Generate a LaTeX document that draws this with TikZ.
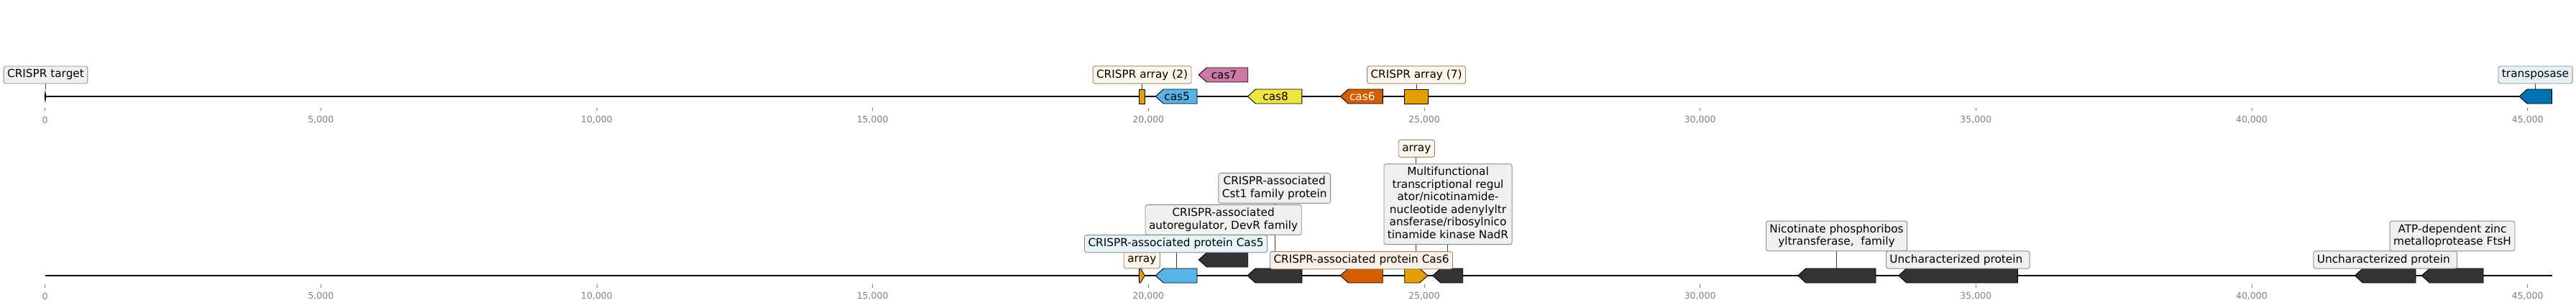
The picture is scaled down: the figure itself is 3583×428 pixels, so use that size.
\documentclass[tikz,border=0pt]{standalone}
\usepackage{fontspec}
\setmainfont{DejaVu Sans}
\definecolor{gorange}{HTML}{E69F00}
\definecolor{gsky}{HTML}{56B4E9}
\definecolor{gyellow}{HTML}{F0E442}
\definecolor{gblue}{HTML}{0072B2}
\definecolor{gverm}{HTML}{D55E00}
\definecolor{gpurple}{HTML}{CC79A7}
\definecolor{gdark}{HTML}{333333}
\definecolor{bgray}{HTML}{F0F0F0}
\definecolor{bcream}{HTML}{FEF6E6}
\definecolor{bsky}{HTML}{E6F4FC}
\definecolor{bpeach}{HTML}{FCEFE6}
\definecolor{bblue}{HTML}{E5F1F7}
\definecolor{bedge}{HTML}{8A8A8A}
\definecolor{tickgray}{HTML}{808080}
\pgfdeclarelayer{bg}
\pgfsetlayers{bg,main}
\tikzset{
  genestyle/.style={draw=black, line width=0.9pt, line join=miter},
  lbl/.style={draw=bedge, line width=0.9pt, rounded corners=3pt, inner xsep=5pt, inner ysep=4.5pt,
    align=center, font=\fontsize{15.3}{17.5}\selectfont,
    execute at begin node={\rule{0pt}{11.4pt}},
    execute at end node={\rule[-3.6pt]{0pt}{3.6pt}}},
  glabel/.style={font=\fontsize{15.3}{17.5}\selectfont, inner sep=0pt},
  conn/.style={draw=black!75, line width=0.8pt},
  axisline/.style={line width=2pt, black},
  tickmark/.style={draw=tickgray, line width=0.8pt},
  ticklabel/.style={text=tickgray, font=\fontsize{12.5}{14}\selectfont, inner sep=0pt}
}
% left-pointing gene: name, x1, x2, yc, colour
\newcommand{\geneL}[5]{%
  \draw[genestyle, fill=#5] (#2,#4) -- ({#2+11},{#4-10}) -- (#3,{#4-10}) -- (#3,{#4+10}) -- ({#2+11},{#4+10}) -- cycle;
  \coordinate (#1) at ({(#2+#3)/2},{#4-10});
  \coordinate (#1c) at ({(#2+#3)/2},#4);}
% right-pointing gene: name, x1, x2, yc, colour, head
\newcommand{\geneR}[6]{%
  \draw[genestyle, fill=#5] (#2,{#4-10}) -- ({#3-#6},{#4-10}) -- (#3,#4) -- ({#3-#6},{#4+10}) -- (#2,{#4+10}) -- cycle;
  \coordinate (#1) at ({(#2+#3)/2},{#4-10});
  \coordinate (#1c) at ({(#2+#3)/2},#4);}
% undirected gene: name, x1, x2, yc, colour
\newcommand{\geneB}[5]{%
  \draw[genestyle, fill=#5] (#2,{#4-10}) rectangle (#3,{#4+10});
  \coordinate (#1) at ({(#2+#3)/2},{#4-10});
  \coordinate (#1c) at ({(#2+#3)/2},#4);}
\begin{document}
\begin{tikzpicture}[x=1pt,y=-1pt]
\useasboundingbox (0,0) rectangle (3583,428);

% ---------- axes ----------
\coordinate (axTs) at (62.7,134);
\coordinate (axTe) at (3550,134);
\coordinate (axBs) at (62.7,383);
\coordinate (axBe) at (3550,383);
\begin{pgfonlayer}{bg}
\fill[white] (0,0) rectangle (3583,428);
\draw[axisline] (axTs) -- (axTe);
\draw[axisline] (axBs) -- (axBe);
\end{pgfonlayer}
\foreach \v/\t in {0/0,5/{5,000},10/{10,000},15/{15,000},20/{20,000},25/{25,000},30/{30,000},35/{35,000},40/{40,000},45/{45,000}}{
  \draw[tickmark] ({62.7+\v*76.73},149.5) -- ({62.7+\v*76.73},154);
  \node[ticklabel] at ({62.7+\v*76.73},166.5) {\t};
  \draw[tickmark] ({62.7+\v*76.73},395) -- ({62.7+\v*76.73},399.5);
  \node[ticklabel] at ({62.7+\v*76.73},411.5) {\t};
}

% ---------- top row genes ----------
\fill[black] (62.9,124) -- (64.3,134) -- (62.9,144) -- (61.7,134) -- cycle;
\coordinate (gT0) at (63,124);
\geneB{gT1}{1584.3}{1592.3}{134}{gorange}
\geneL{gT2}{1607.3}{1665}{134}{gsky}
\geneL{gT3}{1667.3}{1735.7}{104}{gpurple}
\geneL{gT4}{1735.4}{1810.8}{134}{gyellow}
\geneL{gT5}{1864.3}{1923.3}{134}{gverm}
\geneB{gT6}{1953.9}{1986.4}{134}{gorange}
\geneL{gT7}{3504}{3549.3}{134}{gblue}
\node[glabel] (nT2) at ([xshift=1pt]gT2c) {cas5};
\node[glabel] (nT3) at ([xshift=1pt]gT3c) {cas7};
\node[glabel] (nT4) at ([xshift=1pt]gT4c) {cas8};
\node[glabel, text=white] (nT5) at ([xshift=1pt]gT5c) {cas6};

% ---------- top row labels ----------
\node[lbl, fill=bgray] (lT0) at (63.5,104) {CRISPR target};
\node[lbl, fill=bcream] (lT1) at (1588.5,104) {CRISPR array (2)};
\node[lbl, fill=bcream] (lT6) at (1970,104) {CRISPR array (7)};
\node[lbl, fill=bblue] (lT7) at (3526.5,104) {transposase};
\begin{pgfonlayer}{bg}
\draw[conn] (gT0) -- (gT0 |- lT0.south);
\draw[conn] (gT1) -- (gT1 |- lT1.south);
\draw[conn] (gT6) -- (gT6 |- lT6.south);
\draw[conn] (gT7) -- (gT7 |- lT7.south);
\end{pgfonlayer}

% ---------- bottom row genes ----------
\geneR{gB1}{1584.3}{1592.3}{383}{gorange}{6}
\geneL{gB2}{1607.3}{1665}{383}{gsky}
\geneL{gB3}{1667.3}{1735.7}{361}{gdark}
\geneL{gB4}{1735}{1810.8}{383}{gdark}
\geneL{gB5}{1864.3}{1923.2}{383}{gverm}
\geneR{gB6}{1953.7}{1985.7}{383}{gorange}{11}
\geneL{gB7}{1992.7}{2034.7}{383}{gdark}
\geneL{gB8}{2500.7}{2609}{383}{gdark}
\geneL{gB9}{2640.7}{2806.3}{383}{gdark}
\geneL{gB10}{3275.3}{3360}{383}{gdark}
\geneL{gB11}{3368.3}{3454}{383}{gdark}

% ---------- bottom row labels ----------
\node[lbl, fill=bcream] (lB1) at (1588.3,360.8) {array};
\node[lbl, fill=bsky] (lB2) at (1635.5,338.8) {CRISPR-associated protein Cas5};
\node[lbl, fill=bgray] (lB3) at (1701.6,305.5) {CRISPR-associated\\autoregulator, DevR family};
\node[lbl, fill=bgray] (lB4) at (1772.7,261.5) {CRISPR-associated\\Cst1 family protein};
\node[lbl, fill=bpeach] (lB5) at (1893.5,361.7) {CRISPR-associated protein Cas6};
\node[lbl, fill=bcream] (lB6) at (1970.3,206.3) {array};
\node[lbl, fill=bgray] (lB7) at (2014,283.7) {Multifunctional\\transcriptional regul\\ator/nicotinamide-\\nucleotide adenylyltr\\ansferase/ribosylnico\\tinamide kinase NadR};
\node[lbl, fill=bgray] (lB8) at (2554.5,328) {Nicotinate phosphoribos\\yltransferase,\ \ family};
\node[lbl, fill=bgray] (lB9) at (2723.3,361) {Uncharacterized protein\ };
\node[lbl, fill=bgray] (lB10) at (3317.7,361) {Uncharacterized protein\ };
\node[lbl, fill=bgray] (lB11) at (3411,328) {ATP-dependent zinc\\metalloprotease FtsH};
\begin{pgfonlayer}{bg}
\draw[conn] (gB1) -- (gB1 |- lB1.south);
\draw[conn] (gB2) -- (gB2 |- lB2.south);
\draw[conn] (gB3) -- (gB3 |- lB3.south);
\draw[conn] (gB4) -- (gB4 |- lB4.south);
\draw[conn] (gB5) -- (gB5 |- lB5.south);
\draw[conn] (gB6) -- (gB6 |- lB6.south);
\draw[conn] (gB7) -- (gB7 |- lB7.south);
\draw[conn] (gB8) -- (gB8 |- lB8.south);
\draw[conn] (gB9) -- (gB9 |- lB9.south);
\draw[conn] (gB10) -- (gB10 |- lB10.south);
\draw[conn] (gB11) -- (gB11 |- lB11.south);
\end{pgfonlayer}
\end{tikzpicture}
\end{document}
